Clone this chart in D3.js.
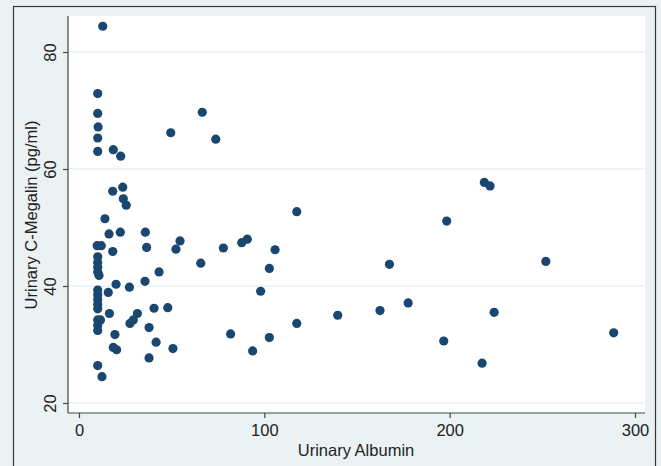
<!DOCTYPE html>
<html>
<head>
<meta charset="utf-8">
<script src="https://cdn.jsdelivr.net/npm/d3@7"></script>
<style>
  html, body { margin: 0; padding: 0; background: #eaf2f3; }
  svg { display: block; }
  text { font-family: "Liberation Sans", Arial, sans-serif; fill: #222; }
</style>
</head>
<body>
<svg id="chart" width="661" height="466"></svg>
<script>
// values
const albumin = [
  12.8, 10.1, 10.1, 10.3, 10.1, 10.1, 18.5, 22.5, 49.5, 66.5,
  73.8, 18.2, 23.6, 23.9, 25.5, 14.0, 16.2, 22.3, 35.8, 54.5,
  9.8, 12.0, 18.2, 36.5, 52.3, 10.1, 10.1, 10.1, 10.1, 10.8,
  43.2, 20.0, 27.2, 35.6, 15.8, 10.1, 10.1, 10.1, 10.1, 10.1,
  16.4, 31.5, 40.5, 47.9, 29.3, 27.5, 10.1, 11.6, 10.1, 10.1,
  37.8, 19.4, 41.6, 18.5, 20.3, 50.7, 37.8, 10.1, 12.4, 117.5,
  77.9, 87.8, 90.8, 105.8, 65.7, 102.7, 98.0, 81.8, 117.5, 102.7,
  93.7, 198.4, 167.5, 139.6, 162.4, 177.6, 196.8, 218.7, 221.8, 251.9,
  224.0, 288.5, 217.5
]
const megalin = [
  84.4, 72.9, 69.5, 67.2, 65.3, 63.0, 63.3, 62.2, 66.2, 69.7,
  65.1, 56.2, 56.9, 54.9, 53.8, 51.5, 48.9, 49.2, 49.2, 47.7,
  46.9, 46.9, 45.9, 46.6, 46.3, 45.0, 44.0, 43.2, 42.4, 41.8,
  42.4, 40.3, 39.8, 40.8, 38.9, 39.3, 38.5, 37.7, 36.9, 36.1,
  35.3, 35.3, 36.2, 36.3, 34.2, 33.6, 34.2, 34.2, 33.3, 32.4,
  32.9, 31.7, 30.4, 29.5, 29.1, 29.3, 27.7, 26.4, 24.5, 52.7,
  46.5, 47.4, 48.0, 46.2, 43.9, 43.0, 39.1, 31.8, 33.6, 31.2,
  28.9, 51.1, 43.7, 35.0, 35.8, 37.1, 30.6, 57.7, 57.1, 44.2,
  35.5, 32.0, 26.8
]
const xTicks = [0, 100, 200, 300]
const yTicks = [20, 40, 60, 80]

const xTitle = 'Urinary Albumin'
const yTitle = 'Urinary C-Megalin (pg/ml)'

const svg = d3.select('#chart')
const plot = { left: 68, right: 645, top: 16, bottom: 413 }

const x = d3.scaleLinear().domain([0, 300]).range([79, 635])
const y = d3.scaleLinear().domain([20, 80]).range([403, 52])

// outer frame
svg.append('rect')
  .attr('x', 13.5).attr('y', 6.5)
  .attr('width', 642).attr('height', 480)
  .attr('fill', '#eaf2f3')
  .attr('stroke', '#3a3a3a')
  .attr('stroke-width', 1.2)

// plot region
svg.append('rect')
  .attr('x', plot.left).attr('y', plot.top)
  .attr('width', plot.right - plot.left)
  .attr('height', plot.bottom - plot.top)
  .attr('fill', '#fff')

// horizontal grid
svg.append('g')
  .selectAll('line')
  .data(yTicks)
  .join('line')
  .attr('x1', plot.left).attr('x2', plot.right)
  .attr('y1', d => y(d)).attr('y2', d => y(d))
  .attr('stroke', '#eaf2f3')
  .attr('stroke-width', 1.5)

// y axis
const yAxis = svg.append('g')
  .attr('transform', `translate(${plot.left},0)`)
  .call(d3.axisLeft(y).tickValues(yTicks).tickSize(5).tickPadding(4))
yAxis.select('.domain')
  .attr('d', `M0,${plot.top}V${plot.bottom}`)
yAxis.selectAll('line, .domain').attr('stroke', '#444').attr('stroke-width', 1.2)
// labels stand upright like the original (tick group already carries y)
yAxis.selectAll('text')
  .attr('x', 0).attr('y', 0).attr('dy', 0)
  .attr('transform', 'translate(-12,0) rotate(-90)')
  .attr('text-anchor', 'middle')
  .style('font-size', '16.5px')
  .style('font-family', '"Liberation Sans", Arial, sans-serif')
  .attr('fill', '#222')

// x axis
const xAxis = svg.append('g')
  .attr('transform', `translate(0,${plot.bottom})`)
  .call(d3.axisBottom(x).tickValues(xTicks).tickSize(5).tickPadding(6))
xAxis.select('.domain')
  .attr('d', `M${plot.left},0H${plot.right}`)
xAxis.selectAll('line, .domain').attr('stroke', '#444').attr('stroke-width', 1.2)
xAxis.selectAll('text')
  .style('font-size', '16.5px')
  .style('font-family', '"Liberation Sans", Arial, sans-serif')
  .attr('fill', '#222')

// titles
svg.append('text')
  .attr('x', 356).attr('y', 456)
  .attr('text-anchor', 'middle')
  .style('font-size', '16.5px')
  .text(xTitle)

svg.append('text')
  .attr('transform', `translate(37,215) rotate(-90)`)
  .attr('text-anchor', 'middle')
  .style('font-size', '16.5px')
  .text(yTitle)

// points
svg.append('g')
  .selectAll('circle')
  .data(albumin.map((a, i) => [a, megalin[i]]))
  .join('circle')
  .attr('cx', d => x(d[0]))
  .attr('cy', d => y(d[1]))
  .attr('r', 4.6)
  .attr('fill', '#1a476f')
</script>
</body>
</html>
